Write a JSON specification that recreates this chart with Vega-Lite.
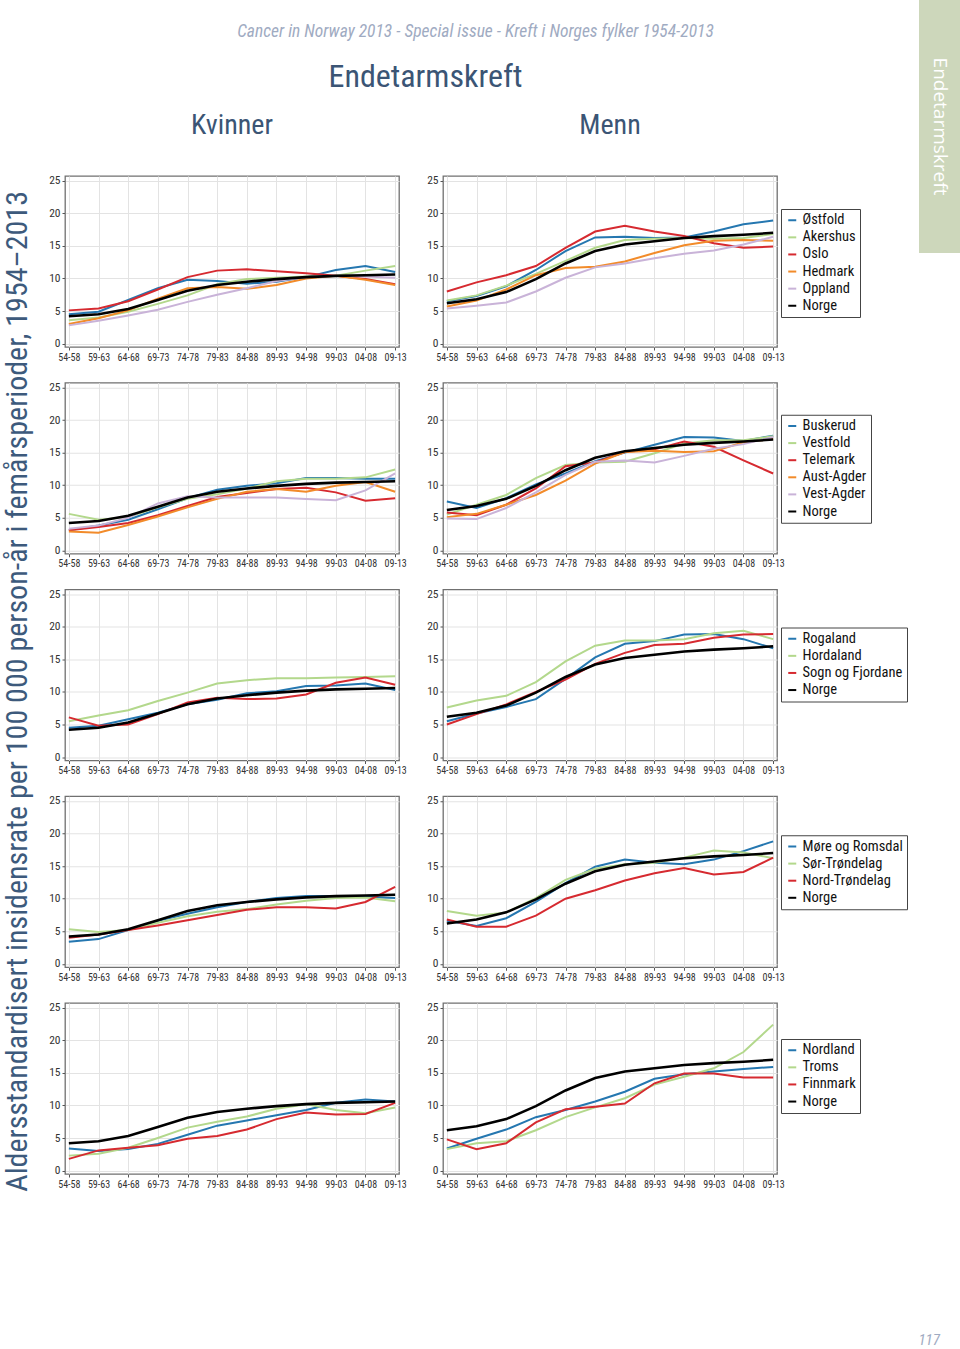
{
"$schema": "https://vega.github.io/schema/vega-lite/v6.json",
"padding": {"left": 2, "top": 0, "right": 0, "bottom": 0},
"background": "white",
"config": {
 "font": "Liberation Sans Narrow, Roboto Condensed, Liberation Sans, sans-serif",
 "view": {"stroke": "#707070", "strokeWidth": 1.3},
 "axis": {"grid": true, "gridColor": "#e3e3e3", "gridWidth": 1, "domain": false, "tickColor": "#555555", "tickSize": 3, "labelColor": "#333333", "labelFont": "Liberation Sans Narrow, Roboto Condensed, Liberation Sans, sans-serif"},
 "axisX": {"labelFontSize": 10, "labelAngle": 0, "labelPadding": 2, "labelOverlap": false},
 "axisY": {"labelFontSize": 11.5, "labelPadding": 2},
 "legend": {"strokeColor": "#444444", "fillColor": "white", "padding": 4, "labelFont": "Liberation Sans Narrow, Roboto Condensed, Liberation Sans, sans-serif", "labelFontSize": 14.5, "labelColor": "#111111", "symbolType": "stroke", "symbolStrokeWidth": 2, "symbolSize": 64, "rowPadding": 2.1, "labelOffset": 3},
 "title": {"fontWeight": "normal", "font": "Liberation Sans Narrow, Roboto Condensed, Liberation Sans, sans-serif"}
},
"datasets": {
 "nk": [
  {"f":"Norge","p":"54-58","v":4.2},{"f":"Norge","p":"59-63","v":4.5},{"f":"Norge","p":"64-68","v":5.3},{"f":"Norge","p":"69-73","v":6.7},{"f":"Norge","p":"74-78","v":8.1},{"f":"Norge","p":"79-83","v":9.0},{"f":"Norge","p":"84-88","v":9.5},{"f":"Norge","p":"89-93","v":9.9},{"f":"Norge","p":"94-98","v":10.2},{"f":"Norge","p":"99-03","v":10.4},{"f":"Norge","p":"04-08","v":10.5},{"f":"Norge","p":"09-13","v":10.6}
 ],
 "nm": [
  {"f":"Norge","p":"54-58","v":6.2},{"f":"Norge","p":"59-63","v":6.8},{"f":"Norge","p":"64-68","v":7.9},{"f":"Norge","p":"69-73","v":9.9},{"f":"Norge","p":"74-78","v":12.3},{"f":"Norge","p":"79-83","v":14.2},{"f":"Norge","p":"84-88","v":15.2},{"f":"Norge","p":"89-93","v":15.7},{"f":"Norge","p":"94-98","v":16.2},{"f":"Norge","p":"99-03","v":16.5},{"f":"Norge","p":"04-08","v":16.7},{"f":"Norge","p":"09-13","v":17.0}
 ],
 "k1": [
  {"f":"Østfold","p":"54-58","v":4.5},{"f":"Østfold","p":"59-63","v":4.9},{"f":"Østfold","p":"64-68","v":6.7},{"f":"Østfold","p":"69-73","v":8.5},{"f":"Østfold","p":"74-78","v":9.8},{"f":"Østfold","p":"79-83","v":9.6},{"f":"Østfold","p":"84-88","v":9.2},{"f":"Østfold","p":"89-93","v":9.5},{"f":"Østfold","p":"94-98","v":10.2},{"f":"Østfold","p":"99-03","v":11.3},{"f":"Østfold","p":"04-08","v":11.9},{"f":"Østfold","p":"09-13","v":11.0},
  {"f":"Akershus","p":"54-58","v":3.6},{"f":"Akershus","p":"59-63","v":4.0},{"f":"Akershus","p":"64-68","v":4.9},{"f":"Akershus","p":"69-73","v":6.1},{"f":"Akershus","p":"74-78","v":7.4},{"f":"Akershus","p":"79-83","v":9.1},{"f":"Akershus","p":"84-88","v":9.9},{"f":"Akershus","p":"89-93","v":10.1},{"f":"Akershus","p":"94-98","v":10.3},{"f":"Akershus","p":"99-03","v":10.4},{"f":"Akershus","p":"04-08","v":11.2},{"f":"Akershus","p":"09-13","v":11.9},
  {"f":"Oslo","p":"54-58","v":5.1},{"f":"Oslo","p":"59-63","v":5.4},{"f":"Oslo","p":"64-68","v":6.5},{"f":"Oslo","p":"69-73","v":8.3},{"f":"Oslo","p":"74-78","v":10.2},{"f":"Oslo","p":"79-83","v":11.2},{"f":"Oslo","p":"84-88","v":11.4},{"f":"Oslo","p":"89-93","v":11.1},{"f":"Oslo","p":"94-98","v":10.8},{"f":"Oslo","p":"99-03","v":10.4},{"f":"Oslo","p":"04-08","v":9.9},{"f":"Oslo","p":"09-13","v":9.1},
  {"f":"Hedmark","p":"54-58","v":3.0},{"f":"Hedmark","p":"59-63","v":3.9},{"f":"Hedmark","p":"64-68","v":5.1},{"f":"Hedmark","p":"69-73","v":6.9},{"f":"Hedmark","p":"74-78","v":8.5},{"f":"Hedmark","p":"79-83","v":8.7},{"f":"Hedmark","p":"84-88","v":8.4},{"f":"Hedmark","p":"89-93","v":9.0},{"f":"Hedmark","p":"94-98","v":10.0},{"f":"Hedmark","p":"99-03","v":10.4},{"f":"Hedmark","p":"04-08","v":9.8},{"f":"Hedmark","p":"09-13","v":9.0},
  {"f":"Oppland","p":"54-58","v":2.8},{"f":"Oppland","p":"59-63","v":3.5},{"f":"Oppland","p":"64-68","v":4.3},{"f":"Oppland","p":"69-73","v":5.2},{"f":"Oppland","p":"74-78","v":6.4},{"f":"Oppland","p":"79-83","v":7.5},{"f":"Oppland","p":"84-88","v":8.5},{"f":"Oppland","p":"89-93","v":9.6},{"f":"Oppland","p":"94-98","v":10.2},{"f":"Oppland","p":"99-03","v":10.4},{"f":"Oppland","p":"04-08","v":10.3},{"f":"Oppland","p":"09-13","v":10.1}
 ],
 "m1": [
  {"f":"Østfold","p":"54-58","v":6.5},{"f":"Østfold","p":"59-63","v":7.3},{"f":"Østfold","p":"64-68","v":8.8},{"f":"Østfold","p":"69-73","v":11.3},{"f":"Østfold","p":"74-78","v":14.2},{"f":"Østfold","p":"79-83","v":16.3},{"f":"Østfold","p":"84-88","v":16.4},{"f":"Østfold","p":"89-93","v":16.2},{"f":"Østfold","p":"94-98","v":16.3},{"f":"Østfold","p":"99-03","v":17.2},{"f":"Østfold","p":"04-08","v":18.3},{"f":"Østfold","p":"09-13","v":18.9},
  {"f":"Akershus","p":"54-58","v":6.6},{"f":"Akershus","p":"59-63","v":7.4},{"f":"Akershus","p":"64-68","v":8.9},{"f":"Akershus","p":"69-73","v":10.7},{"f":"Akershus","p":"74-78","v":12.7},{"f":"Akershus","p":"79-83","v":14.7},{"f":"Akershus","p":"84-88","v":15.9},{"f":"Akershus","p":"89-93","v":16.1},{"f":"Akershus","p":"94-98","v":16.2},{"f":"Akershus","p":"99-03","v":16.1},{"f":"Akershus","p":"04-08","v":16.2},{"f":"Akershus","p":"09-13","v":16.8},
  {"f":"Oslo","p":"54-58","v":8.0},{"f":"Oslo","p":"59-63","v":9.4},{"f":"Oslo","p":"64-68","v":10.5},{"f":"Oslo","p":"69-73","v":11.9},{"f":"Oslo","p":"74-78","v":14.7},{"f":"Oslo","p":"79-83","v":17.2},{"f":"Oslo","p":"84-88","v":18.1},{"f":"Oslo","p":"89-93","v":17.2},{"f":"Oslo","p":"94-98","v":16.5},{"f":"Oslo","p":"99-03","v":15.4},{"f":"Oslo","p":"04-08","v":14.7},{"f":"Oslo","p":"09-13","v":14.9},
  {"f":"Hedmark","p":"54-58","v":5.7},{"f":"Hedmark","p":"59-63","v":6.6},{"f":"Hedmark","p":"64-68","v":8.3},{"f":"Hedmark","p":"69-73","v":10.5},{"f":"Hedmark","p":"74-78","v":11.6},{"f":"Hedmark","p":"79-83","v":11.8},{"f":"Hedmark","p":"84-88","v":12.6},{"f":"Hedmark","p":"89-93","v":13.9},{"f":"Hedmark","p":"94-98","v":15.1},{"f":"Hedmark","p":"99-03","v":15.8},{"f":"Hedmark","p":"04-08","v":15.9},{"f":"Hedmark","p":"09-13","v":15.8},
  {"f":"Oppland","p":"54-58","v":5.4},{"f":"Oppland","p":"59-63","v":5.8},{"f":"Oppland","p":"64-68","v":6.3},{"f":"Oppland","p":"69-73","v":8.0},{"f":"Oppland","p":"74-78","v":10.1},{"f":"Oppland","p":"79-83","v":11.7},{"f":"Oppland","p":"84-88","v":12.3},{"f":"Oppland","p":"89-93","v":13.1},{"f":"Oppland","p":"94-98","v":13.8},{"f":"Oppland","p":"99-03","v":14.3},{"f":"Oppland","p":"04-08","v":15.2},{"f":"Oppland","p":"09-13","v":16.4}
 ],
 "k2": [
  {"f":"Buskerud","p":"54-58","v":3.1},{"f":"Buskerud","p":"59-63","v":3.8},{"f":"Buskerud","p":"64-68","v":4.7},{"f":"Buskerud","p":"69-73","v":6.3},{"f":"Buskerud","p":"74-78","v":8.0},{"f":"Buskerud","p":"79-83","v":9.3},{"f":"Buskerud","p":"84-88","v":9.9},{"f":"Buskerud","p":"89-93","v":10.3},{"f":"Buskerud","p":"94-98","v":11.1},{"f":"Buskerud","p":"99-03","v":11.1},{"f":"Buskerud","p":"04-08","v":11.0},{"f":"Buskerud","p":"09-13","v":11.0},
  {"f":"Vestfold","p":"54-58","v":5.6},{"f":"Vestfold","p":"59-63","v":4.7},{"f":"Vestfold","p":"64-68","v":5.1},{"f":"Vestfold","p":"69-73","v":6.6},{"f":"Vestfold","p":"74-78","v":7.9},{"f":"Vestfold","p":"79-83","v":8.6},{"f":"Vestfold","p":"84-88","v":9.5},{"f":"Vestfold","p":"89-93","v":10.6},{"f":"Vestfold","p":"94-98","v":11.0},{"f":"Vestfold","p":"99-03","v":11.0},{"f":"Vestfold","p":"04-08","v":11.2},{"f":"Vestfold","p":"09-13","v":12.4},
  {"f":"Telemark","p":"54-58","v":3.1},{"f":"Telemark","p":"59-63","v":3.6},{"f":"Telemark","p":"64-68","v":4.2},{"f":"Telemark","p":"69-73","v":5.4},{"f":"Telemark","p":"74-78","v":6.8},{"f":"Telemark","p":"79-83","v":8.2},{"f":"Telemark","p":"84-88","v":8.8},{"f":"Telemark","p":"89-93","v":9.4},{"f":"Telemark","p":"94-98","v":9.6},{"f":"Telemark","p":"99-03","v":8.9},{"f":"Telemark","p":"04-08","v":7.6},{"f":"Telemark","p":"09-13","v":8.0},
  {"f":"Aust-Agder","p":"54-58","v":2.9},{"f":"Aust-Agder","p":"59-63","v":2.7},{"f":"Aust-Agder","p":"64-68","v":3.9},{"f":"Aust-Agder","p":"69-73","v":5.2},{"f":"Aust-Agder","p":"74-78","v":6.6},{"f":"Aust-Agder","p":"79-83","v":7.9},{"f":"Aust-Agder","p":"84-88","v":9.0},{"f":"Aust-Agder","p":"89-93","v":9.4},{"f":"Aust-Agder","p":"94-98","v":9.0},{"f":"Aust-Agder","p":"99-03","v":9.9},{"f":"Aust-Agder","p":"04-08","v":10.5},{"f":"Aust-Agder","p":"09-13","v":9.0},
  {"f":"Vest-Agder","p":"54-58","v":3.3},{"f":"Vest-Agder","p":"59-63","v":3.8},{"f":"Vest-Agder","p":"64-68","v":5.0},{"f":"Vest-Agder","p":"69-73","v":7.2},{"f":"Vest-Agder","p":"74-78","v":8.3},{"f":"Vest-Agder","p":"79-83","v":8.1},{"f":"Vest-Agder","p":"84-88","v":8.1},{"f":"Vest-Agder","p":"89-93","v":8.1},{"f":"Vest-Agder","p":"94-98","v":7.9},{"f":"Vest-Agder","p":"99-03","v":7.7},{"f":"Vest-Agder","p":"04-08","v":9.2},{"f":"Vest-Agder","p":"09-13","v":11.8}
 ],
 "m2": [
  {"f":"Buskerud","p":"54-58","v":7.5},{"f":"Buskerud","p":"59-63","v":6.5},{"f":"Buskerud","p":"64-68","v":8.0},{"f":"Buskerud","p":"69-73","v":10.1},{"f":"Buskerud","p":"74-78","v":11.8},{"f":"Buskerud","p":"79-83","v":13.7},{"f":"Buskerud","p":"84-88","v":15.0},{"f":"Buskerud","p":"89-93","v":16.2},{"f":"Buskerud","p":"94-98","v":17.4},{"f":"Buskerud","p":"99-03","v":17.3},{"f":"Buskerud","p":"04-08","v":16.8},{"f":"Buskerud","p":"09-13","v":17.6},
  {"f":"Vestfold","p":"54-58","v":5.5},{"f":"Vestfold","p":"59-63","v":7.0},{"f":"Vestfold","p":"64-68","v":8.5},{"f":"Vestfold","p":"69-73","v":11.1},{"f":"Vestfold","p":"74-78","v":13.1},{"f":"Vestfold","p":"79-83","v":13.5},{"f":"Vestfold","p":"84-88","v":13.6},{"f":"Vestfold","p":"89-93","v":14.9},{"f":"Vestfold","p":"94-98","v":16.4},{"f":"Vestfold","p":"99-03","v":16.9},{"f":"Vestfold","p":"04-08","v":16.9},{"f":"Vestfold","p":"09-13","v":17.5},
  {"f":"Telemark","p":"54-58","v":5.8},{"f":"Telemark","p":"59-63","v":5.4},{"f":"Telemark","p":"64-68","v":7.0},{"f":"Telemark","p":"69-73","v":9.5},{"f":"Telemark","p":"74-78","v":12.9},{"f":"Telemark","p":"79-83","v":13.5},{"f":"Telemark","p":"84-88","v":15.1},{"f":"Telemark","p":"89-93","v":15.5},{"f":"Telemark","p":"94-98","v":16.7},{"f":"Telemark","p":"99-03","v":15.9},{"f":"Telemark","p":"04-08","v":13.8},{"f":"Telemark","p":"09-13","v":11.8},
  {"f":"Aust-Agder","p":"54-58","v":5.1},{"f":"Aust-Agder","p":"59-63","v":5.6},{"f":"Aust-Agder","p":"64-68","v":7.0},{"f":"Aust-Agder","p":"69-73","v":8.5},{"f":"Aust-Agder","p":"74-78","v":10.7},{"f":"Aust-Agder","p":"79-83","v":13.3},{"f":"Aust-Agder","p":"84-88","v":15.1},{"f":"Aust-Agder","p":"89-93","v":15.3},{"f":"Aust-Agder","p":"94-98","v":15.1},{"f":"Aust-Agder","p":"99-03","v":15.2},{"f":"Aust-Agder","p":"04-08","v":16.6},{"f":"Aust-Agder","p":"09-13","v":17.1},
  {"f":"Vest-Agder","p":"54-58","v":4.9},{"f":"Vest-Agder","p":"59-63","v":4.8},{"f":"Vest-Agder","p":"64-68","v":6.5},{"f":"Vest-Agder","p":"69-73","v":8.9},{"f":"Vest-Agder","p":"74-78","v":11.6},{"f":"Vest-Agder","p":"79-83","v":13.6},{"f":"Vest-Agder","p":"84-88","v":13.8},{"f":"Vest-Agder","p":"89-93","v":13.5},{"f":"Vest-Agder","p":"94-98","v":14.5},{"f":"Vest-Agder","p":"99-03","v":15.6},{"f":"Vest-Agder","p":"04-08","v":16.3},{"f":"Vest-Agder","p":"09-13","v":17.4}
 ],
 "k3": [
  {"f":"Rogaland","p":"54-58","v":4.5},{"f":"Rogaland","p":"59-63","v":4.8},{"f":"Rogaland","p":"64-68","v":5.8},{"f":"Rogaland","p":"69-73","v":6.8},{"f":"Rogaland","p":"74-78","v":8.1},{"f":"Rogaland","p":"79-83","v":8.8},{"f":"Rogaland","p":"84-88","v":9.8},{"f":"Rogaland","p":"89-93","v":10.1},{"f":"Rogaland","p":"94-98","v":10.9},{"f":"Rogaland","p":"99-03","v":11.0},{"f":"Rogaland","p":"04-08","v":11.3},{"f":"Rogaland","p":"09-13","v":10.3},
  {"f":"Hordaland","p":"54-58","v":5.5},{"f":"Hordaland","p":"59-63","v":6.4},{"f":"Hordaland","p":"64-68","v":7.2},{"f":"Hordaland","p":"69-73","v":8.6},{"f":"Hordaland","p":"74-78","v":9.9},{"f":"Hordaland","p":"79-83","v":11.3},{"f":"Hordaland","p":"84-88","v":11.8},{"f":"Hordaland","p":"89-93","v":12.1},{"f":"Hordaland","p":"94-98","v":12.1},{"f":"Hordaland","p":"99-03","v":12.2},{"f":"Hordaland","p":"04-08","v":12.3},{"f":"Hordaland","p":"09-13","v":12.4},
  {"f":"Sogn og Fjordane","p":"54-58","v":6.1},{"f":"Sogn og Fjordane","p":"59-63","v":4.8},{"f":"Sogn og Fjordane","p":"64-68","v":5.0},{"f":"Sogn og Fjordane","p":"69-73","v":6.6},{"f":"Sogn og Fjordane","p":"74-78","v":8.4},{"f":"Sogn og Fjordane","p":"79-83","v":9.1},{"f":"Sogn og Fjordane","p":"84-88","v":8.9},{"f":"Sogn og Fjordane","p":"89-93","v":9.0},{"f":"Sogn og Fjordane","p":"94-98","v":9.6},{"f":"Sogn og Fjordane","p":"99-03","v":11.4},{"f":"Sogn og Fjordane","p":"04-08","v":12.2},{"f":"Sogn og Fjordane","p":"09-13","v":11.1}
 ],
 "m3": [
  {"f":"Rogaland","p":"54-58","v":5.5},{"f":"Rogaland","p":"59-63","v":6.7},{"f":"Rogaland","p":"64-68","v":7.7},{"f":"Rogaland","p":"69-73","v":8.9},{"f":"Rogaland","p":"74-78","v":12.0},{"f":"Rogaland","p":"79-83","v":15.3},{"f":"Rogaland","p":"84-88","v":17.4},{"f":"Rogaland","p":"89-93","v":17.8},{"f":"Rogaland","p":"94-98","v":18.8},{"f":"Rogaland","p":"99-03","v":18.9},{"f":"Rogaland","p":"04-08","v":18.1},{"f":"Rogaland","p":"09-13","v":16.7},
  {"f":"Hordaland","p":"54-58","v":7.6},{"f":"Hordaland","p":"59-63","v":8.7},{"f":"Hordaland","p":"64-68","v":9.4},{"f":"Hordaland","p":"69-73","v":11.5},{"f":"Hordaland","p":"74-78","v":14.7},{"f":"Hordaland","p":"79-83","v":17.1},{"f":"Hordaland","p":"84-88","v":17.9},{"f":"Hordaland","p":"89-93","v":17.9},{"f":"Hordaland","p":"94-98","v":18.1},{"f":"Hordaland","p":"99-03","v":19.0},{"f":"Hordaland","p":"04-08","v":19.4},{"f":"Hordaland","p":"09-13","v":18.1},
  {"f":"Sogn og Fjordane","p":"54-58","v":5.0},{"f":"Sogn og Fjordane","p":"59-63","v":6.6},{"f":"Sogn og Fjordane","p":"64-68","v":8.1},{"f":"Sogn og Fjordane","p":"69-73","v":10.0},{"f":"Sogn og Fjordane","p":"74-78","v":11.9},{"f":"Sogn og Fjordane","p":"79-83","v":14.3},{"f":"Sogn og Fjordane","p":"84-88","v":16.0},{"f":"Sogn og Fjordane","p":"89-93","v":17.2},{"f":"Sogn og Fjordane","p":"94-98","v":17.4},{"f":"Sogn og Fjordane","p":"99-03","v":18.3},{"f":"Sogn og Fjordane","p":"04-08","v":18.8},{"f":"Sogn og Fjordane","p":"09-13","v":18.9}
 ],
 "k4": [
  {"f":"Møre og Romsdal","p":"54-58","v":3.4},{"f":"Møre og Romsdal","p":"59-63","v":3.8},{"f":"Møre og Romsdal","p":"64-68","v":5.2},{"f":"Møre og Romsdal","p":"69-73","v":6.6},{"f":"Møre og Romsdal","p":"74-78","v":7.7},{"f":"Møre og Romsdal","p":"79-83","v":8.7},{"f":"Møre og Romsdal","p":"84-88","v":9.5},{"f":"Møre og Romsdal","p":"89-93","v":10.1},{"f":"Møre og Romsdal","p":"94-98","v":10.4},{"f":"Møre og Romsdal","p":"99-03","v":10.4},{"f":"Møre og Romsdal","p":"04-08","v":10.3},{"f":"Møre og Romsdal","p":"09-13","v":10.1},
  {"f":"Sør-Trøndelag","p":"54-58","v":5.3},{"f":"Sør-Trøndelag","p":"59-63","v":4.9},{"f":"Sør-Trøndelag","p":"64-68","v":5.2},{"f":"Sør-Trøndelag","p":"69-73","v":6.3},{"f":"Sør-Trøndelag","p":"74-78","v":7.3},{"f":"Sør-Trøndelag","p":"79-83","v":8.0},{"f":"Sør-Trøndelag","p":"84-88","v":8.4},{"f":"Sør-Trøndelag","p":"89-93","v":9.1},{"f":"Sør-Trøndelag","p":"94-98","v":9.7},{"f":"Sør-Trøndelag","p":"99-03","v":10.1},{"f":"Sør-Trøndelag","p":"04-08","v":10.2},{"f":"Sør-Trøndelag","p":"09-13","v":9.6},
  {"f":"Nord-Trøndelag","p":"54-58","v":4.0},{"f":"Nord-Trøndelag","p":"59-63","v":4.5},{"f":"Nord-Trøndelag","p":"64-68","v":5.2},{"f":"Nord-Trøndelag","p":"69-73","v":5.9},{"f":"Nord-Trøndelag","p":"74-78","v":6.7},{"f":"Nord-Trøndelag","p":"79-83","v":7.5},{"f":"Nord-Trøndelag","p":"84-88","v":8.3},{"f":"Nord-Trøndelag","p":"89-93","v":8.7},{"f":"Nord-Trøndelag","p":"94-98","v":8.7},{"f":"Nord-Trøndelag","p":"99-03","v":8.5},{"f":"Nord-Trøndelag","p":"04-08","v":9.5},{"f":"Nord-Trøndelag","p":"09-13","v":11.8}
 ],
 "m4": [
  {"f":"Møre og Romsdal","p":"54-58","v":6.6},{"f":"Møre og Romsdal","p":"59-63","v":5.8},{"f":"Møre og Romsdal","p":"64-68","v":7.0},{"f":"Møre og Romsdal","p":"69-73","v":9.5},{"f":"Møre og Romsdal","p":"74-78","v":12.4},{"f":"Møre og Romsdal","p":"79-83","v":14.9},{"f":"Møre og Romsdal","p":"84-88","v":16.0},{"f":"Møre og Romsdal","p":"89-93","v":15.5},{"f":"Møre og Romsdal","p":"94-98","v":15.3},{"f":"Møre og Romsdal","p":"99-03","v":16.0},{"f":"Møre og Romsdal","p":"04-08","v":17.3},{"f":"Møre og Romsdal","p":"09-13","v":18.8},
  {"f":"Sør-Trøndelag","p":"54-58","v":8.1},{"f":"Sør-Trøndelag","p":"59-63","v":7.4},{"f":"Sør-Trøndelag","p":"64-68","v":7.9},{"f":"Sør-Trøndelag","p":"69-73","v":10.1},{"f":"Sør-Trøndelag","p":"74-78","v":12.9},{"f":"Sør-Trøndelag","p":"79-83","v":14.6},{"f":"Sør-Trøndelag","p":"84-88","v":15.3},{"f":"Sør-Trøndelag","p":"89-93","v":15.5},{"f":"Sør-Trøndelag","p":"94-98","v":16.3},{"f":"Sør-Trøndelag","p":"99-03","v":17.4},{"f":"Sør-Trøndelag","p":"04-08","v":17.1},{"f":"Sør-Trøndelag","p":"09-13","v":16.2},
  {"f":"Nord-Trøndelag","p":"54-58","v":6.8},{"f":"Nord-Trøndelag","p":"59-63","v":5.7},{"f":"Nord-Trøndelag","p":"64-68","v":5.7},{"f":"Nord-Trøndelag","p":"69-73","v":7.4},{"f":"Nord-Trøndelag","p":"74-78","v":10.0},{"f":"Nord-Trøndelag","p":"79-83","v":11.3},{"f":"Nord-Trøndelag","p":"84-88","v":12.8},{"f":"Nord-Trøndelag","p":"89-93","v":13.9},{"f":"Nord-Trøndelag","p":"94-98","v":14.7},{"f":"Nord-Trøndelag","p":"99-03","v":13.7},{"f":"Nord-Trøndelag","p":"04-08","v":14.1},{"f":"Nord-Trøndelag","p":"09-13","v":16.3}
 ],
 "k5": [
  {"f":"Nordland","p":"54-58","v":3.4},{"f":"Nordland","p":"59-63","v":3.0},{"f":"Nordland","p":"64-68","v":3.3},{"f":"Nordland","p":"69-73","v":4.1},{"f":"Nordland","p":"74-78","v":5.5},{"f":"Nordland","p":"79-83","v":6.9},{"f":"Nordland","p":"84-88","v":7.7},{"f":"Nordland","p":"89-93","v":8.5},{"f":"Nordland","p":"94-98","v":9.3},{"f":"Nordland","p":"99-03","v":10.4},{"f":"Nordland","p":"04-08","v":10.9},{"f":"Nordland","p":"09-13","v":10.6},
  {"f":"Troms","p":"54-58","v":2.3},{"f":"Troms","p":"59-63","v":2.6},{"f":"Troms","p":"64-68","v":3.5},{"f":"Troms","p":"69-73","v":5.0},{"f":"Troms","p":"74-78","v":6.6},{"f":"Troms","p":"79-83","v":7.5},{"f":"Troms","p":"84-88","v":8.3},{"f":"Troms","p":"89-93","v":9.5},{"f":"Troms","p":"94-98","v":10.2},{"f":"Troms","p":"99-03","v":9.3},{"f":"Troms","p":"04-08","v":8.8},{"f":"Troms","p":"09-13","v":9.7},
  {"f":"Finnmark","p":"54-58","v":1.8},{"f":"Finnmark","p":"59-63","v":3.1},{"f":"Finnmark","p":"64-68","v":3.5},{"f":"Finnmark","p":"69-73","v":3.9},{"f":"Finnmark","p":"74-78","v":4.9},{"f":"Finnmark","p":"79-83","v":5.3},{"f":"Finnmark","p":"84-88","v":6.3},{"f":"Finnmark","p":"89-93","v":7.9},{"f":"Finnmark","p":"94-98","v":8.9},{"f":"Finnmark","p":"99-03","v":8.6},{"f":"Finnmark","p":"04-08","v":8.7},{"f":"Finnmark","p":"09-13","v":10.4}
 ],
 "m5": [
  {"f":"Nordland","p":"54-58","v":3.4},{"f":"Nordland","p":"59-63","v":4.9},{"f":"Nordland","p":"64-68","v":6.3},{"f":"Nordland","p":"69-73","v":8.2},{"f":"Nordland","p":"74-78","v":9.3},{"f":"Nordland","p":"79-83","v":10.6},{"f":"Nordland","p":"84-88","v":12.1},{"f":"Nordland","p":"89-93","v":14.1},{"f":"Nordland","p":"94-98","v":14.8},{"f":"Nordland","p":"99-03","v":15.2},{"f":"Nordland","p":"04-08","v":15.6},{"f":"Nordland","p":"09-13","v":15.9},
  {"f":"Troms","p":"54-58","v":3.3},{"f":"Troms","p":"59-63","v":4.2},{"f":"Troms","p":"64-68","v":4.5},{"f":"Troms","p":"69-73","v":6.2},{"f":"Troms","p":"74-78","v":8.2},{"f":"Troms","p":"79-83","v":9.7},{"f":"Troms","p":"84-88","v":11.1},{"f":"Troms","p":"89-93","v":13.2},{"f":"Troms","p":"94-98","v":14.4},{"f":"Troms","p":"99-03","v":15.7},{"f":"Troms","p":"04-08","v":18.2},{"f":"Troms","p":"09-13","v":22.4},
  {"f":"Finnmark","p":"54-58","v":4.8},{"f":"Finnmark","p":"59-63","v":3.3},{"f":"Finnmark","p":"64-68","v":4.2},{"f":"Finnmark","p":"69-73","v":7.4},{"f":"Finnmark","p":"74-78","v":9.4},{"f":"Finnmark","p":"79-83","v":9.8},{"f":"Finnmark","p":"84-88","v":10.3},{"f":"Finnmark","p":"89-93","v":13.4},{"f":"Finnmark","p":"94-98","v":14.9},{"f":"Finnmark","p":"99-03","v":14.9},{"f":"Finnmark","p":"04-08","v":14.3},{"f":"Finnmark","p":"09-13","v":14.3}
 ]
},
"title": {"text": "117", "orient": "bottom", "anchor": "end", "fontSize": 15, "fontStyle": "italic", "color": "#9fabc2", "offset": 141, "dx": -21},
"spacing": 9,
"resolve": {"scale": {"color": "independent"}},
"hconcat": [
 {
  "spacing": 18,
  "resolve": {"scale": {"color": "independent"}},
  "vconcat": [
   {
    "width": 845, "height": 0,
    "view": {"stroke": null},
    "data": {"values": []},
    "mark": "point",
    "title": {"text": "Cancer in Norway 2013 - Special issue - Kreft i Norges fylker 1954-2013", "orient": "bottom", "fontSize": 17.5, "fontStyle": "italic", "color": "#9fabc2", "anchor": "middle", "frame": "group", "dx": -12, "offset": 3}
   },
   {
    "width": 845, "height": 0,
    "view": {"stroke": null},
    "data": {"values": []},
    "mark": "point",
    "title": {"text": "Endetarmskreft", "orient": "bottom", "fontSize": 32, "color": "#3b5575", "anchor": "middle", "frame": "group", "dx": -62, "offset": -17}
   },
   {
    "title": {"text": "Aldersstandardisert insidensrate per 100 000 person-år i femårsperioder, 1954–2013", "orient": "left", "fontSize": 30, "color": "#3d5a7c", "anchor": "middle", "offset": 15, "dx": -41},
    "spacing": 17.75,
    "resolve": {"scale": {"color": "independent"}},
    "vconcat": [
     {
      "spacing": 18,
      "resolve": {"scale": {"color": "independent"}},
      "hconcat": [
       {
        "title": {"text": "Kvinner", "fontSize": 28, "color": "#3b5575", "frame": "group", "offset": 35},
        "width": 334, "height": 171,
        "encoding": {
         "x": {"field": "p", "type": "ordinal", "scale": {"type": "point", "domain": ["54-58","59-63","64-68","69-73","74-78","79-83","84-88","89-93","94-98","99-03","04-08","09-13"], "padding": 0.13}, "axis": {"title": null}},
         "y": {"field": "v", "type": "quantitative", "scale": {"domain": [-0.52, 25.72], "nice": false, "zero": false}, "axis": {"title": null, "values": [0,5,10,15,20,25]}},
         "color": {"field": "f", "type": "nominal", "scale": {"domain": ["Østfold","Akershus","Oslo","Hedmark","Oppland","Norge"], "range": ["#2577b0","#b3d88c","#d62a30","#f28b2a","#c9b3d8","#000000"]}, "legend": null}
        },
        "layer": [
         {"data": {"name": "k1"}, "mark": {"type": "line", "strokeWidth": 2}},
         {"data": {"name": "nk"}, "mark": {"type": "line", "strokeWidth": 2.6}}
        ]
       },
       {
        "title": {"text": "Menn", "fontSize": 28, "color": "#3b5575", "frame": "group", "offset": 35},
        "width": 334, "height": 171,
        "encoding": {
         "x": {"field": "p", "type": "ordinal", "scale": {"type": "point", "domain": ["54-58","59-63","64-68","69-73","74-78","79-83","84-88","89-93","94-98","99-03","04-08","09-13"], "padding": 0.13}, "axis": {"title": null}},
         "y": {"field": "v", "type": "quantitative", "scale": {"domain": [-0.52, 25.72], "nice": false, "zero": false}, "axis": {"title": null, "values": [0,5,10,15,20,25]}},
         "color": {"field": "f", "type": "nominal", "scale": {"domain": ["Østfold","Akershus","Oslo","Hedmark","Oppland","Norge"], "range": ["#2577b0","#b3d88c","#d62a30","#f28b2a","#c9b3d8","#000000"]}, "legend": {"title": null, "orient": "none", "legendX": 338, "legendY": 33}}
        },
        "layer": [
         {"data": {"name": "m1"}, "mark": {"type": "line", "strokeWidth": 2}},
         {"data": {"name": "nm"}, "mark": {"type": "line", "strokeWidth": 2.6}}
        ]
       }
      ]
     },
     {
      "spacing": 18,
      "resolve": {"scale": {"color": "independent"}},
      "hconcat": [
       {
        "width": 334, "height": 171,
        "encoding": {
         "x": {"field": "p", "type": "ordinal", "scale": {"type": "point", "domain": ["54-58","59-63","64-68","69-73","74-78","79-83","84-88","89-93","94-98","99-03","04-08","09-13"], "padding": 0.13}, "axis": {"title": null}},
         "y": {"field": "v", "type": "quantitative", "scale": {"domain": [-0.52, 25.72], "nice": false, "zero": false}, "axis": {"title": null, "values": [0,5,10,15,20,25]}},
         "color": {"field": "f", "type": "nominal", "scale": {"domain": ["Buskerud","Vestfold","Telemark","Aust-Agder","Vest-Agder","Norge"], "range": ["#2577b0","#b3d88c","#d62a30","#f28b2a","#c9b3d8","#000000"]}, "legend": null}
        },
        "layer": [
         {"data": {"name": "k2"}, "mark": {"type": "line", "strokeWidth": 2}},
         {"data": {"name": "nk"}, "mark": {"type": "line", "strokeWidth": 2.6}}
        ]
       },
       {
        "width": 334, "height": 171,
        "encoding": {
         "x": {"field": "p", "type": "ordinal", "scale": {"type": "point", "domain": ["54-58","59-63","64-68","69-73","74-78","79-83","84-88","89-93","94-98","99-03","04-08","09-13"], "padding": 0.13}, "axis": {"title": null}},
         "y": {"field": "v", "type": "quantitative", "scale": {"domain": [-0.52, 25.72], "nice": false, "zero": false}, "axis": {"title": null, "values": [0,5,10,15,20,25]}},
         "color": {"field": "f", "type": "nominal", "scale": {"domain": ["Buskerud","Vestfold","Telemark","Aust-Agder","Vest-Agder","Norge"], "range": ["#2577b0","#b3d88c","#d62a30","#f28b2a","#c9b3d8","#000000"]}, "legend": {"title": null, "orient": "none", "legendX": 338, "legendY": 32}}
        },
        "layer": [
         {"data": {"name": "m2"}, "mark": {"type": "line", "strokeWidth": 2}},
         {"data": {"name": "nm"}, "mark": {"type": "line", "strokeWidth": 2.6}}
        ]
       }
      ]
     },
     {
      "spacing": 18,
      "resolve": {"scale": {"color": "independent"}},
      "hconcat": [
       {
        "width": 334, "height": 171,
        "encoding": {
         "x": {"field": "p", "type": "ordinal", "scale": {"type": "point", "domain": ["54-58","59-63","64-68","69-73","74-78","79-83","84-88","89-93","94-98","99-03","04-08","09-13"], "padding": 0.13}, "axis": {"title": null}},
         "y": {"field": "v", "type": "quantitative", "scale": {"domain": [-0.52, 25.72], "nice": false, "zero": false}, "axis": {"title": null, "values": [0,5,10,15,20,25]}},
         "color": {"field": "f", "type": "nominal", "scale": {"domain": ["Rogaland","Hordaland","Sogn og Fjordane","Norge"], "range": ["#2577b0","#b3d88c","#d62a30","#000000"]}, "legend": null}
        },
        "layer": [
         {"data": {"name": "k3"}, "mark": {"type": "line", "strokeWidth": 2}},
         {"data": {"name": "nk"}, "mark": {"type": "line", "strokeWidth": 2.6}}
        ]
       },
       {
        "width": 334, "height": 171,
        "encoding": {
         "x": {"field": "p", "type": "ordinal", "scale": {"type": "point", "domain": ["54-58","59-63","64-68","69-73","74-78","79-83","84-88","89-93","94-98","99-03","04-08","09-13"], "padding": 0.13}, "axis": {"title": null}},
         "y": {"field": "v", "type": "quantitative", "scale": {"domain": [-0.52, 25.72], "nice": false, "zero": false}, "axis": {"title": null, "values": [0,5,10,15,20,25]}},
         "color": {"field": "f", "type": "nominal", "scale": {"domain": ["Rogaland","Hordaland","Sogn og Fjordane","Norge"], "range": ["#2577b0","#b3d88c","#d62a30","#000000"]}, "legend": {"title": null, "orient": "none", "legendX": 338, "legendY": 38}}
        },
        "layer": [
         {"data": {"name": "m3"}, "mark": {"type": "line", "strokeWidth": 2}},
         {"data": {"name": "nm"}, "mark": {"type": "line", "strokeWidth": 2.6}}
        ]
       }
      ]
     },
     {
      "spacing": 18,
      "resolve": {"scale": {"color": "independent"}},
      "hconcat": [
       {
        "width": 334, "height": 171,
        "encoding": {
         "x": {"field": "p", "type": "ordinal", "scale": {"type": "point", "domain": ["54-58","59-63","64-68","69-73","74-78","79-83","84-88","89-93","94-98","99-03","04-08","09-13"], "padding": 0.13}, "axis": {"title": null}},
         "y": {"field": "v", "type": "quantitative", "scale": {"domain": [-0.52, 25.72], "nice": false, "zero": false}, "axis": {"title": null, "values": [0,5,10,15,20,25]}},
         "color": {"field": "f", "type": "nominal", "scale": {"domain": ["Møre og Romsdal","Sør-Trøndelag","Nord-Trøndelag","Norge"], "range": ["#2577b0","#b3d88c","#d62a30","#000000"]}, "legend": null}
        },
        "layer": [
         {"data": {"name": "k4"}, "mark": {"type": "line", "strokeWidth": 2}},
         {"data": {"name": "nk"}, "mark": {"type": "line", "strokeWidth": 2.6}}
        ]
       },
       {
        "width": 334, "height": 171,
        "encoding": {
         "x": {"field": "p", "type": "ordinal", "scale": {"type": "point", "domain": ["54-58","59-63","64-68","69-73","74-78","79-83","84-88","89-93","94-98","99-03","04-08","09-13"], "padding": 0.13}, "axis": {"title": null}},
         "y": {"field": "v", "type": "quantitative", "scale": {"domain": [-0.52, 25.72], "nice": false, "zero": false}, "axis": {"title": null, "values": [0,5,10,15,20,25]}},
         "color": {"field": "f", "type": "nominal", "scale": {"domain": ["Møre og Romsdal","Sør-Trøndelag","Nord-Trøndelag","Norge"], "range": ["#2577b0","#b3d88c","#d62a30","#000000"]}, "legend": {"title": null, "orient": "none", "legendX": 338, "legendY": 39}}
        },
        "layer": [
         {"data": {"name": "m4"}, "mark": {"type": "line", "strokeWidth": 2}},
         {"data": {"name": "nm"}, "mark": {"type": "line", "strokeWidth": 2.6}}
        ]
       }
      ]
     },
     {
      "spacing": 18,
      "resolve": {"scale": {"color": "independent"}},
      "hconcat": [
       {
        "width": 334, "height": 171,
        "encoding": {
         "x": {"field": "p", "type": "ordinal", "scale": {"type": "point", "domain": ["54-58","59-63","64-68","69-73","74-78","79-83","84-88","89-93","94-98","99-03","04-08","09-13"], "padding": 0.13}, "axis": {"title": null}},
         "y": {"field": "v", "type": "quantitative", "scale": {"domain": [-0.52, 25.72], "nice": false, "zero": false}, "axis": {"title": null, "values": [0,5,10,15,20,25]}},
         "color": {"field": "f", "type": "nominal", "scale": {"domain": ["Nordland","Troms","Finnmark","Norge"], "range": ["#2577b0","#b3d88c","#d62a30","#000000"]}, "legend": null}
        },
        "layer": [
         {"data": {"name": "k5"}, "mark": {"type": "line", "strokeWidth": 2}},
         {"data": {"name": "nk"}, "mark": {"type": "line", "strokeWidth": 2.6}}
        ]
       },
       {
        "width": 334, "height": 171,
        "encoding": {
         "x": {"field": "p", "type": "ordinal", "scale": {"type": "point", "domain": ["54-58","59-63","64-68","69-73","74-78","79-83","84-88","89-93","94-98","99-03","04-08","09-13"], "padding": 0.13}, "axis": {"title": null}},
         "y": {"field": "v", "type": "quantitative", "scale": {"domain": [-0.52, 25.72], "nice": false, "zero": false}, "axis": {"title": null, "values": [0,5,10,15,20,25]}},
         "color": {"field": "f", "type": "nominal", "scale": {"domain": ["Nordland","Troms","Finnmark","Norge"], "range": ["#2577b0","#b3d88c","#d62a30","#000000"]}, "legend": {"title": null, "orient": "none", "legendX": 338, "legendY": 36}}
        },
        "layer": [
         {"data": {"name": "m5"}, "mark": {"type": "line", "strokeWidth": 2}},
         {"data": {"name": "nm"}, "mark": {"type": "line", "strokeWidth": 2.6}}
        ]
       }
      ]
     }
    ]
   }
  ]
 },
 {
  "width": 42, "height": 253,
  "view": {"fill": "#cdd7bb", "stroke": null},
  "data": {"values": [{"t": "Endetarmskreft"}]},
  "mark": {"type": "text", "angle": 90, "color": "white", "fontSize": 19, "font": "Open Sans, Liberation Sans, sans-serif"},
  "encoding": {"text": {"field": "t", "type": "nominal"}}
 }
]
}
